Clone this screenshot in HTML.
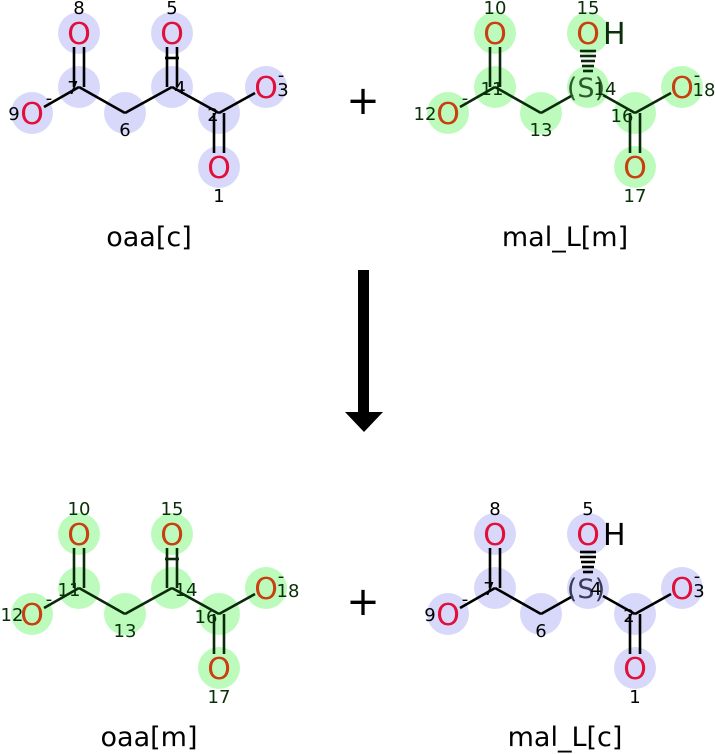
<!DOCTYPE html>
<html><head><meta charset="utf-8"><style>
html,body{margin:0;padding:0;background:#fff;width:715px;height:754px;overflow:hidden}
svg{display:block}
text{font-family:"DejaVu Sans","Liberation Sans",sans-serif}
.O{font-size:30px;text-anchor:middle}
.n{font-size:18px;text-anchor:middle}
.t{font-size:27px;text-anchor:middle;fill:#000}
</style></head><body>
<svg width="715" height="754" viewBox="0 0 715 754" xmlns="http://www.w3.org/2000/svg">
<defs>
<g id="oaaBonds" stroke-width="2.6" fill="none">
<line x1="-5" y1="0" x2="-5" y2="-40"/><line x1="5" y1="0" x2="5" y2="-40"/>
<line x1="0" y1="0" x2="-35" y2="20"/>
<line x1="0" y1="0" x2="46" y2="26"/><line x1="46" y1="26" x2="93" y2="0"/>
<line x1="88" y1="0" x2="88" y2="-40"/><line x1="98" y1="0" x2="98" y2="-40"/>
<line x1="86" y1="-29" x2="100" y2="-29"/>
<line x1="93" y1="0" x2="140" y2="26"/>
<line x1="140" y1="26" x2="176" y2="6"/>
<line x1="135" y1="26" x2="135" y2="66"/><line x1="145" y1="26" x2="145" y2="66"/>
</g>
<g id="malBonds" stroke-width="2.6" fill="none">
<line x1="-5" y1="0" x2="-5" y2="-40"/><line x1="5" y1="0" x2="5" y2="-40"/>
<line x1="0" y1="0" x2="-35" y2="20"/>
<line x1="0" y1="0" x2="46" y2="26"/><line x1="46" y1="26" x2="78" y2="8"/>
<line x1="108" y1="8" x2="140" y2="26"/>
<line x1="140" y1="26" x2="176" y2="6"/>
<line x1="135" y1="26" x2="135" y2="66"/><line x1="145" y1="26" x2="145" y2="66"/>
<line x1="88" y1="-16" x2="98" y2="-16"/><line x1="87" y1="-21" x2="99" y2="-21"/>
<line x1="86" y1="-26" x2="100" y2="-26"/><line x1="85" y1="-31" x2="101" y2="-31"/>
<line x1="85" y1="-36" x2="101" y2="-36"/>
</g>
<g id="circ">
<circle cx="0" cy="-54" r="21"/><circle cx="0" cy="0" r="21"/><circle cx="-47" cy="26" r="21"/>
<circle cx="46" cy="26" r="21"/><circle cx="93" cy="0" r="21"/><circle cx="93" cy="-54" r="21"/>
<circle cx="140" cy="26" r="21"/><circle cx="187" cy="0" r="21"/><circle cx="140" cy="80" r="21"/>
</g>
</defs>

<g transform="translate(79,87)">
<use href="#circ" fill="#d8d8fa"/>
<use href="#oaaBonds" stroke="#000"/>
<g fill="#e0103a">
<text class="O" x="0" y="-43">O</text><text class="O" x="-47" y="37">O</text>
<text class="O" x="93" y="-43">O</text><text class="O" x="187" y="11">O</text><text class="O" x="140" y="91">O</text>
</g>
<g fill="#000">
<text class="n" x="0" y="-73">8</text><text class="n" x="93" y="-73">5</text>
<text class="n" x="-65" y="33">9</text><text class="n" x="-30" y="17">-</text>
<text class="n" x="-6" y="7">7</text><text class="n" x="46" y="49">6</text>
<text class="n" x="101" y="7">4</text><text class="n" x="134" y="34">2</text>
<text class="n" x="204" y="9">3</text><text class="n" x="202" y="-6">-</text>
<text class="n" x="140" y="115">1</text>
</g>
</g>

<g transform="translate(495,87)">
<use href="#circ" fill="#bdfbbd"/>
<use href="#malBonds" stroke="#0a2a0a"/>
<g fill="#c8400f">
<text class="O" x="0" y="-43">O</text><text class="O" x="-47" y="37">O</text>
<text class="O" x="93" y="-43">O</text><text class="O" x="187" y="11">O</text><text class="O" x="140" y="91">O</text>
</g>
<text x="108" y="-43" font-size="30" fill="#0a300a">H</text>
<text x="91" y="10" font-size="27" fill="#2c5a2c" text-anchor="middle">(S)</text>
<g fill="#0a300a">
<text class="n" x="0" y="-73">10</text><text class="n" x="93" y="-73">15</text>
<text class="n" x="-70" y="33">12</text><text class="n" x="-30" y="17">-</text>
<text class="n" x="-3" y="8">11</text><text class="n" x="46" y="49">13</text>
<text class="n" x="110" y="8">14</text><text class="n" x="127" y="35">16</text>
<text class="n" x="209" y="9">18</text><text class="n" x="202" y="-6">-</text>
<text class="n" x="140" y="115">17</text>
</g>
</g>

<g transform="translate(79,588)">
<use href="#circ" fill="#bdfbbd"/>
<use href="#oaaBonds" stroke="#0a2a0a"/>
<g fill="#c8400f">
<text class="O" x="0" y="-43">O</text><text class="O" x="-47" y="37">O</text>
<text class="O" x="93" y="-43">O</text><text class="O" x="187" y="11">O</text><text class="O" x="140" y="91">O</text>
</g>
<g fill="#0a300a">
<text class="n" x="0" y="-73">10</text><text class="n" x="93" y="-73">15</text>
<text class="n" x="-67" y="33">12</text><text class="n" x="-30" y="17">-</text>
<text class="n" x="-10" y="8">11</text><text class="n" x="46" y="49">13</text>
<text class="n" x="107" y="8">14</text><text class="n" x="127" y="35">16</text>
<text class="n" x="209" y="9">18</text><text class="n" x="202" y="-6">-</text>
<text class="n" x="140" y="115">17</text>
</g>
</g>

<g transform="translate(495,588)">
<use href="#circ" fill="#d8d8fa"/>
<use href="#malBonds" stroke="#000"/>
<g fill="#e0103a">
<text class="O" x="0" y="-43">O</text><text class="O" x="-47" y="37">O</text>
<text class="O" x="93" y="-43">O</text><text class="O" x="187" y="11">O</text><text class="O" x="140" y="91">O</text>
</g>
<text x="108" y="-43" font-size="30" fill="#000">H</text>
<text x="91" y="10" font-size="27" fill="#3a3a5a" text-anchor="middle">(S)</text>
<g fill="#000">
<text class="n" x="0" y="-73">8</text><text class="n" x="93" y="-73">5</text>
<text class="n" x="-65" y="33">9</text><text class="n" x="-30" y="17">-</text>
<text class="n" x="-6" y="7">7</text><text class="n" x="46" y="49">6</text>
<text class="n" x="101" y="7">4</text><text class="n" x="134" y="34">2</text>
<text class="n" x="204" y="9">3</text><text class="n" x="202" y="-6">-</text>
<text class="n" x="140" y="115">1</text>
</g>
</g>

<text x="363" y="114" font-size="40" text-anchor="middle">+</text>
<text x="363" y="615" font-size="40" text-anchor="middle">+</text>

<text class="t" x="149" y="246">oaa[c]</text>
<text class="t" x="565" y="246">mal_L[m]</text>
<text class="t" x="149" y="746">oaa[m]</text>
<text class="t" x="565" y="746">mal_L[c]</text>

<rect x="358" y="270" width="11" height="143" fill="#000"/>
<polygon points="345,412 383,412 364,432" fill="#000"/>
</svg>
</body></html>
